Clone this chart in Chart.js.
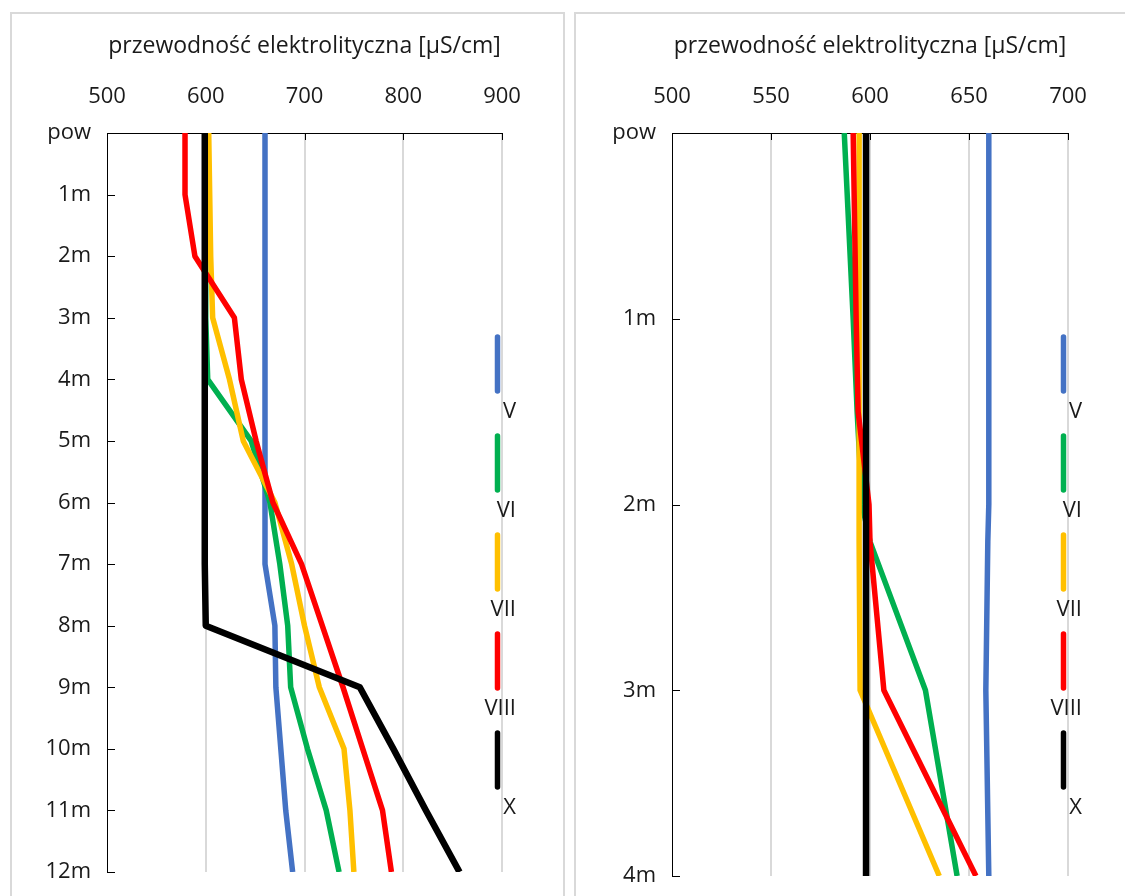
<!DOCTYPE html>
<html lang="pl">
<head>
<meta charset="UTF-8">
<title>Przewodność elektrolityczna</title>
<script src="https://cdn.jsdelivr.net/npm/chart.js"></script>
<style>
  body { margin: 0; background: #fff; width: 1125px; height: 896px; overflow: hidden; position: relative; }
  .ramka { position: absolute; border: 2px solid #d9d9d9; box-sizing: border-box; }
  canvas { position: absolute; top: 0; }
</style>
</head>
<body>
<div class="ramka" style="left:10px; top:12px; width:555px; height:900px"></div>
<div class="ramka" style="left:574px; top:12px; width:570px; height:900px"></div>
<canvas id="wykresA" width="568" height="896" style="left:0"></canvas>
<canvas id="wykresB" width="557" height="896" style="left:568px"></canvas>

<script>
// serie (miesiące)
const serie = ["V", "VI", "VII", "VIII", "X"];
const kolory = ["#4472C4", "#00B050", "#FFC000", "#FF0000", "#000000"];

// lewy wykres: głębokość co 1 m
const glebokosciA = [0, 1, 2, 3, 4, 5, 6, 7, 8, 9, 10, 11, 12];
const etykietyA = ["pow", "1m", "2m", "3m", "4m", "5m", "6m", "7m", "8m", "9m", "10m", "11m", "12m"];
const osXA = [500, 600, 700, 800, 900];
const A_V    = [660, 660, 660, 660, 660, 660, 660, 660, 670, 671, 676, 681, 688];
const A_VI   = [600, 600, 600, 600, 602, 646, 665, 675, 683, 686, 703, 722, 735];
const A_VII  = [603, 604, 605, 607, 624, 638, 670, 687, 700, 715, 740, 746, 750];
const A_VIII = [579, 579, 589, 629, 636, 651, 668, 697, 718, 739, 759, 779, 788];
const A_X    = [599, 599, 599, 599, 599, 599, 599, 599, 600, 756, 790, 823, 857];

// prawy wykres: głębokość do 4 m
const glebokosciB = [0, 1, 1.5, 2, 2.2, 3, 4];
const etykietyB = ["pow", "1m", "2m", "3m", "4m"];
const osXB = [500, 550, 600, 650, 700];
const B_V    = [660, 660, 660, 660, 659.5, 658.5, 660];
const B_VI   = [587, 591.5, 593.5, 596, 600, 628, 644];
const B_VII  = [594.5, 594.5, 594.5, 594.5, 594.5, 595, 635];
const B_VIII = [591.5, 593, 594, 599.5, 600, 607, 653.5];
const B_X    = [598, 598, 598, 598, 598, 598, 598];

const czcionka = { family: "'Open Sans', sans-serif", size: 22 };
const czcionkaTytulu = { family: "'Open Sans', sans-serif", size: 23 };
const kolorTekstu = "#1a1a1a";

// znaczniki osi skierowane do środka
const znacznikiWewn = {
  id: "znacznikiWewn",
  afterDraw(chart) {
    const { ctx, chartArea, scales } = chart;
    ctx.save();
    ctx.strokeStyle = "#000";
    ctx.lineWidth = 1;
    ctx.beginPath();
    scales.x.ticks.forEach(t => {
      const px = Math.round(scales.x.getPixelForValue(t.value)) + 0.5;
      ctx.moveTo(px, chartArea.top);
      ctx.lineTo(px, chartArea.top + 7);
    });
    scales.y.ticks.forEach(t => {
      const py = Math.round(scales.y.getPixelForValue(t.value)) + 0.5;
      ctx.moveTo(chartArea.left, py);
      ctx.lineTo(chartArea.left + 8, py);
    });
    ctx.stroke();
    ctx.restore();
  }
};

// legenda: pionowe odcinki z podpisem pod spodem
const legendaPionowa = {
  id: "legendaPionowa",
  afterDraw(chart) {
    const { ctx, chartArea } = chart;
    ctx.save();
    ctx.font = "22px 'Open Sans', sans-serif";
    ctx.textAlign = "right";
    ctx.textBaseline = "middle";
    chart.data.datasets.forEach((ds, i) => {
      const y0 = 337 + i * 99;
      const x = chartArea.right - 4.5;
      ctx.strokeStyle = ds.borderColor;
      ctx.lineWidth = 5.5;
      ctx.lineCap = "round";
      ctx.beginPath();
      ctx.moveTo(x, y0);
      ctx.lineTo(x, y0 + 54);
      ctx.stroke();
      ctx.fillStyle = kolorTekstu;
      ctx.fillText(ds.label, chartArea.right + 14, y0 + 75);
    });
    ctx.restore();
  }
};

function zrobWykres(id, glebokosci, etykiety, osX, wartosci, pad) {
  const zestawy = wartosci.map((w, i) => ({
    label: serie[i],
    data: w.map((v, j) => ({ x: v, y: glebokosci[j] })),
    borderColor: kolory[i],
    backgroundColor: kolory[i],
    borderWidth: i === 4 ? 6.5 : 5.5,
    borderJoinStyle: "round",
    showLine: true,
    pointRadius: 0,
    tension: 0,
    order: wartosci.length - i
  }));

  return new Chart(document.getElementById(id), {
    type: "scatter",
    data: { datasets: zestawy },
    options: {
      responsive: false,
      animation: false,
      layout: { padding: { left: 0, top: 0, right: pad.right, bottom: pad.bottom } },
      plugins: { legend: { display: false }, tooltip: { enabled: false } },
      scales: {
        x: {
          type: "linear",
          position: "top",
          min: osX[0],
          max: osX[osX.length - 1],
          afterBuildTicks: s => { s.ticks = osX.map(v => ({ value: v })); },
          afterFit: s => { s.height = 133; s.paddingLeft = 0; s.paddingRight = 0; },
          grid: {
            color: c => (c.tick && c.tick.value === osX[0]) ? "rgba(0,0,0,0)" : "#d9d9d9",
            lineWidth: 2,
            drawTicks: false
          },
          border: { display: true, color: "#000", width: 1 },
          ticks: { font: czcionka, color: kolorTekstu, padding: 23, maxRotation: 0 },
          title: {
            display: true,
            text: "przewodność elektrolityczna [µS/cm]",
            font: czcionkaTytulu,
            color: kolorTekstu,
            padding: { top: 33, bottom: 0 }
          }
        },
        y: {
          type: "linear",
          reverse: true,
          min: 0,
          max: etykiety.length - 1,
          afterBuildTicks: s => { s.ticks = etykiety.map((e, i) => ({ value: i })); },
          afterFit: s => { s.width = pad.left; s.paddingTop = 0; s.paddingBottom = 0; },
          grid: { display: false, drawTicks: false },
          border: { display: true, color: "#000", width: 1 },
          ticks: {
            font: czcionka,
            color: kolorTekstu,
            padding: 16,
            autoSkip: false,
            callback: v => etykiety[v]
          }
        }
      }
    },
    plugins: [znacznikiWewn, legendaPionowa]
  });
}

zrobWykres("wykresA", glebokosciA, etykietyA, osXA,
  [A_V, A_VI, A_VII, A_VIII, A_X], { left: 107, right: 66, bottom: 24 });
zrobWykres("wykresB", glebokosciB, etykietyB, osXB,
  [B_V, B_VI, B_VII, B_VIII, B_X], { left: 104, right: 57, bottom: 20 });
</script>
</body>
</html>
